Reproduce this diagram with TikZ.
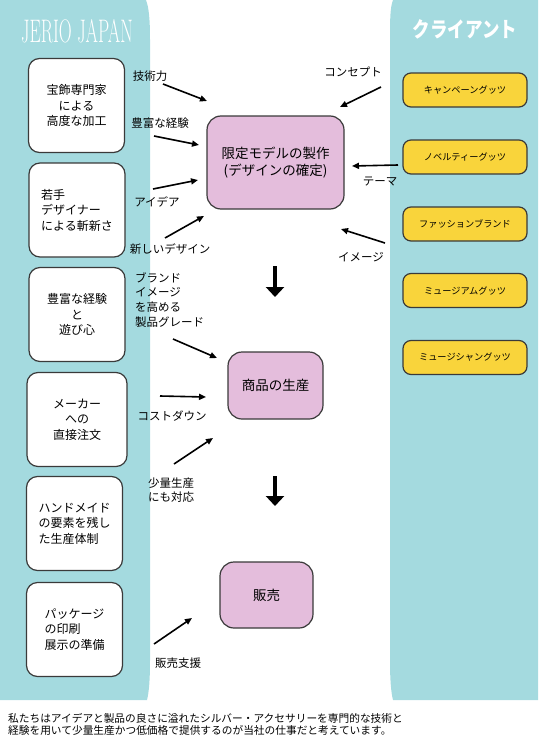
\documentclass[tikz,border=0pt]{standalone}
\usepackage{fontspec}
\usepackage{graphicx}
\newfontfamily\jp{Noto Sans CJK JP}
\usetikzlibrary{arrows.meta}
\definecolor{teal}{HTML}{A4DADF}
\definecolor{pinkbox}{HTML}{E4BDDC}
\definecolor{yelbox}{HTML}{F9D43B}
\definecolor{edge}{HTML}{3A3A3A}
\tikzset{
  panel/.style={fill=teal, draw=none},
  whitebox/.style={draw=edge, line width=1.2pt, fill=white, rounded corners=11pt,
    minimum width=96pt, minimum height=94pt, font=\jp\fontsize{12}{15.5}\selectfont, inner sep=0pt},
  pinkbox/.style={draw=edge, line width=1.2pt, fill=pinkbox, rounded corners=14pt,
    font=\jp\fontsize{13.5}{17}\selectfont, align=center, inner sep=0pt},
  yellowbox/.style={draw=edge, line width=1.2pt, fill=yelbox, rounded corners=8pt,
    minimum width=124pt, minimum height=34pt, font=\jp\fontsize{9.2}{11}\selectfont, inner sep=0pt},
  lbl/.style={font=\jp\fontsize{11.5}{14.7}\selectfont, inner sep=0pt},
  conn/.style={line width=1.6pt, -{Triangle[length=7pt,width=6pt]}},
  downarrow/.style={line width=4pt, -{Triangle[length=10pt,width=18pt]}},
}
\begin{document}
\begin{tikzpicture}[x=1pt,y=-1pt]
\useasboundingbox (0,0) rectangle (540,736);
% panels
\path[panel] (0,0) -- (146,0) .. controls (149,8) and (150,20) .. (150,40) -- (150,660)
  .. controls (150,680) and (149,692) .. (147,700) -- (0,700) -- cycle;
\path[panel] (393,0) .. controls (390,8) and (390,20) .. (390,40) -- (390,660)
  .. controls (390,680) and (391,692) .. (393,700) -- (538,700) -- (538,0) -- cycle;
% titles
\node[text=white, font=\fontsize{32}{32}\selectfont, inner sep=0pt] (ttl) at (77,31) {\scalebox{0.56}[1.02]{JERIO JAPAN}};
\node[text=white, font=\jp\bfseries\fontsize{17.5}{18}\selectfont, inner sep=0pt] (ttr) at (465,29) {\scalebox{1}[1.22]{クライアント}};
% white boxes
\node[whitebox, align=center] (b1) at (76.5,105.5) {宝飾専門家\\による\\高度な加工};
\node[whitebox, align=left] (b2) at (77,210) {若手\\デザイナー\\による斬新さ};
\node[whitebox, align=center] (b3) at (77,314.5) {豊富な経験\\と\\遊び心};
\node[whitebox, align=center, minimum width=100pt] (b4) at (77,419.5) {メーカー\\への\\直接注文};
\node[whitebox, align=left] (b5) at (74.5,523.5) {ハンドメイド\\の要素を残し\\た生産体制};
\node[whitebox, align=left] (b6) at (74.5,629.5) {パッケージ\\の印刷\\展示の準備};
% pink boxes
\node[pinkbox, minimum width=137pt, minimum height=93pt] (p1) at (275.5,162.5) {限定モデルの製作\\(デザインの確定)};
\node[pinkbox, minimum width=95pt, minimum height=67pt] (p2) at (275.5,385.5) {商品の生産};
\node[pinkbox, minimum width=93pt, minimum height=66pt] (p3) at (266.5,595) {販売};
% yellow boxes
\node[yellowbox] (y1) at (465,90) {キャンペーングッツ};
\node[yellowbox] (y2) at (465,157) {ノベルティーグッツ};
\node[yellowbox] (y3) at (465,224) {ファッションブランド};
\node[yellowbox] (y4) at (465,290.5) {ミュージアムグッツ};
\node[yellowbox] (y5) at (465,357.5) {ミュージシャングッツ};
% labels
\node[lbl] (l1) at (150,76) {技術力};
\node[lbl] (l2) at (160,123) {豊富な経験};
\node[lbl] (l3) at (157,202) {アイデア};
\node[lbl] (l4) at (170,249) {新しいデザイン};
\node[lbl] (l5) at (353,72) {コンセプト};
\node[lbl] (l6) at (380,182) {テーマ};
\node[lbl] (l7) at (361,257) {イメージ};
\node[lbl, align=left, anchor=north west] (l8) at (135,272) {ブランド\\イメージ\\を高める\\製品グレード};
\node[lbl] (l9) at (172,416) {コストダウン};
\node[lbl, align=left, anchor=north west, font=\jp\fontsize{11.5}{13.5}\selectfont] (l10) at (148,478) {少量生産\\にも対応};
\node[lbl] (l11) at (178,663) {販売支援};
% arrow end points
\coordinate (a1s) at (163,84);  \coordinate (a1e) at (207,101);
\coordinate (a2s) at (154,136); \coordinate (a2e) at (199,145);
\coordinate (a3s) at (153,189); \coordinate (a3e) at (198,180);
\coordinate (a4s) at (165,238); \coordinate (a4e) at (204,216);
\coordinate (a5s) at (381,87);  \coordinate (a5e) at (340,107);
\coordinate (a6s) at (398,165); \coordinate (a6e) at (352,166);
\coordinate (a7s) at (385,243); \coordinate (a7e) at (341,229);
\coordinate (a8s) at (173,339); \coordinate (a8e) at (217,358);
\coordinate (a9s) at (160,396); \coordinate (a9e) at (206,397);
\coordinate (a10s) at (174,464); \coordinate (a10e) at (213,438);
\coordinate (a11s) at (154,644); \coordinate (a11e) at (192,618);
\foreach \i in {1,...,11} { \draw[conn] (a\i s) -- (a\i e); }
\coordinate (d1s) at (275,266); \coordinate (d1e) at (275,297);
\coordinate (d2s) at (275,476); \coordinate (d2e) at (275,506);
\draw[downarrow] (d1s) -- (d1e);
\draw[downarrow] (d2s) -- (d2e);
% bottom text
\node[font=\jp\fontsize{10.7}{12.5}\selectfont, align=left, anchor=north west, inner sep=0pt] (foot) at (8,713)
 {私たちはアイデアと製品の良さに溢れたシルバー・アクセサリーを専門的な技術と\\経験を用いて少量生産かつ低価格で提供するのが当社の仕事だと考えています。};
\end{tikzpicture}
\end{document}
